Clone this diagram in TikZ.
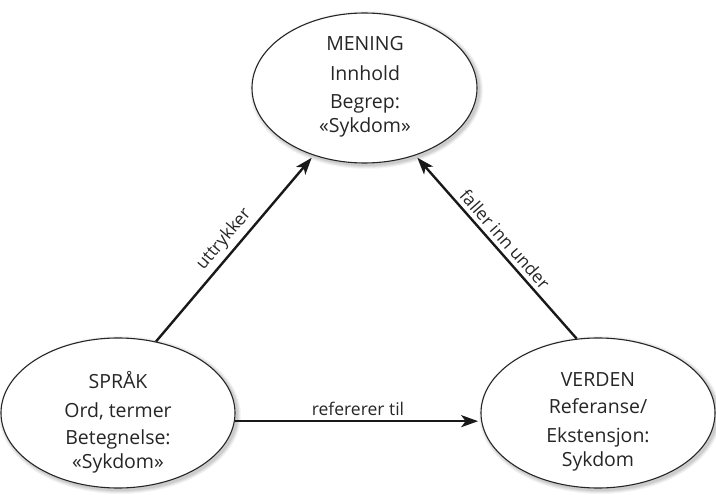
\documentclass[tikz,border=0pt]{standalone}
\usepackage{fontspec}
\setmainfont{Open Sans}
\usetikzlibrary{arrows.meta,shapes.geometric}
\tikzset{
  conc/.style={ellipse, draw=black!85, line width=1.1pt, fill=white, inner sep=0pt},
  ctext/.style={align=center, font=\fontsize{19.5}{24}\selectfont, text=black!85, inner sep=0pt},
  arr/.style={line width=2.4pt, draw=black!90, -{Stealth[length=17pt,width=12pt,inset=4.5pt]}, shorten >=3pt},
  lbl/.style={font=\fontsize{17.5}{20}\selectfont, text=black!85, inner sep=4pt},
  shade1/.style={ellipse, fill=black, inner sep=0pt, draw=none}
}
\begin{document}
\begin{tikzpicture}[x=1pt,y=-1pt]
\useasboundingbox (0,0) rectangle (716,495);
% soft shadows
\foreach \o/\a in {4/0.04,3/0.05,2/0.06,1/0.07}{
  \node[shade1, opacity=\a, minimum width=225pt+2*\o pt, minimum height=150pt+2*\o pt] at (366.5,90) {};
  \node[shade1, opacity=\a, minimum width=234pt+2*\o pt, minimum height=150pt+2*\o pt] at (120,415) {};
  \node[shade1, opacity=\a, minimum width=234pt+2*\o pt, minimum height=150pt+2*\o pt] at (600,415) {};
}
\node[conc, minimum width=225pt, minimum height=150pt] (mean) at (364.5,88) {};
\node[conc, minimum width=234pt, minimum height=150pt] (lang) at (118,413) {};
\node[conc, minimum width=234pt, minimum height=150pt] (world) at (598,413) {};

\node[ctext] (meant) at (365,87) {MENING\\[6pt]Innhold\\[4pt]Begrep:\\«Sykdom»};
\node[ctext] (langt) at (118,422) {SPRÅK\\[5pt]Ord, termer\\[3pt]Betegnelse:\\«Sykdom»};
\node[ctext] (worldt) at (598,422) {VERDEN\\[3pt]Referanse/\\[5pt]Ekstensjon:\\Sykdom};

\draw[arr] (lang.62) -- (mean.-127) node[lbl, midway, sloped, above] {uttrykker};
\draw[arr] (world.106) -- (mean.-53) node[lbl, midway, sloped, above] {faller inn under};
\draw[arr] (lang.-4) -- (world.184) node[lbl, midway, above] {refererer til};
\end{tikzpicture}
\end{document}
